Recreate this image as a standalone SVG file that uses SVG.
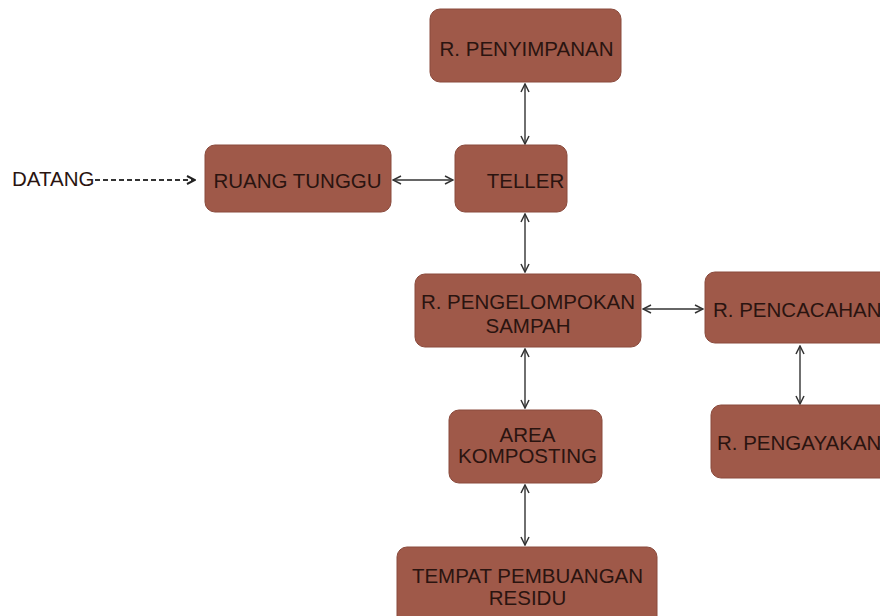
<svg xmlns="http://www.w3.org/2000/svg" width="880" height="616" viewBox="0 0 880 616">
<style>
.box{fill:#9f5949;stroke:#8a4a3c;stroke-width:1}
.t{font-family:"Liberation Sans",Arial,sans-serif;font-size:20.5px;fill:#2a1410;text-anchor:middle}
.c{stroke:#333;stroke-width:1.4;fill:none}
.d{stroke:#333;stroke-width:1.8;fill:none;stroke-dasharray:5,3}
</style>
<defs>
<marker id="ah" viewBox="0 0 10 10" refX="9" refY="5" markerWidth="10" markerHeight="10" markerUnits="userSpaceOnUse" orient="auto-start-reverse">
<path d="M1,1 L9,5 L1,9" stroke="#333" stroke-width="1.5" fill="none"/>
</marker>
<marker id="ahd" viewBox="0 0 10 10" refX="9" refY="5" markerWidth="10" markerHeight="10" markerUnits="userSpaceOnUse" orient="auto">
<path d="M1,1 L9,5 L1,9" stroke="#222" stroke-width="2" fill="none"/>
</marker>
</defs>
<rect width="880" height="616" fill="#ffffff"/>
<g id="connectors">
<path class="d" d="M95,180 H195" marker-end="url(#ahd)"/>
<path class="c" d="M525,84 V144" marker-start="url(#ah)" marker-end="url(#ah)"/>
<path class="c" d="M393,180 H453" marker-start="url(#ah)" marker-end="url(#ah)"/>
<path class="c" d="M525,214 V272" marker-start="url(#ah)" marker-end="url(#ah)"/>
<path class="c" d="M643,309 H703" marker-start="url(#ah)" marker-end="url(#ah)"/>
<path class="c" d="M800,346 V404" marker-start="url(#ah)" marker-end="url(#ah)"/>
<path class="c" d="M525,349 V408" marker-start="url(#ah)" marker-end="url(#ah)"/>
<path class="c" d="M525,485 V545" marker-start="url(#ah)" marker-end="url(#ah)"/>
</g>
<g id="datang"><text class="t" x="12" y="186" style="text-anchor:start">DATANG</text></g>
<g id="penyimpanan"><rect class="box" x="430" y="9" width="191" height="73" rx="10"/><text class="t" x="526.5" y="56">R. PENYIMPANAN</text></g>
<g id="ruang-tunggu"><rect class="box" x="205" y="145" width="186" height="67" rx="10"/><text class="t" x="297.5" y="188">RUANG TUNGGU</text></g>
<g id="teller"><rect class="box" x="455" y="145" width="112" height="67" rx="10"/><text class="t" x="525.5" y="188">TELLER</text></g>
<g id="pengelompokan"><rect class="box" x="415" y="274" width="226" height="73" rx="10"/><text class="t" x="528" y="309">R. PENGELOMPOKAN</text><text class="t" x="528" y="333">SAMPAH</text></g>
<g id="pencacahan"><rect class="box" x="705" y="272" width="190" height="71" rx="10"/><text class="t" x="713" y="317" style="text-anchor:start">R. PENCACAHAN</text></g>
<g id="pengayakan"><rect class="box" x="711" y="405" width="190" height="73" rx="10"/><text class="t" x="717" y="450" style="text-anchor:start">R. PENGAYAKAN</text></g>
<g id="komposting"><rect class="box" x="449" y="410" width="153" height="73" rx="10"/><text class="t" x="527.5" y="442">AREA</text><text class="t" x="527.5" y="463">KOMPOSTING</text></g>
<g id="residu"><rect class="box" x="397" y="547" width="260" height="80" rx="10"/><text class="t" x="527.5" y="583">TEMPAT PEMBUANGAN</text><text class="t" x="527.5" y="605">RESIDU</text></g>
</svg>
